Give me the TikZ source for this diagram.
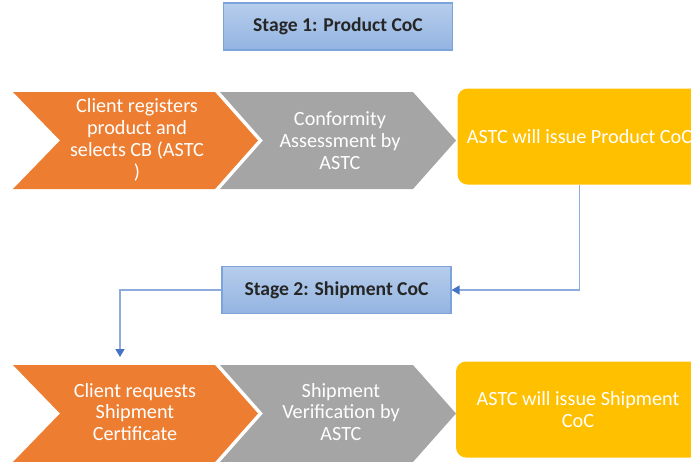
\documentclass[tikz,border=0pt]{standalone}
\usepackage{fontspec}
\setmainfont{Carlito}
\usetikzlibrary{arrows.meta}
\definecolor{chevorange}{HTML}{ED7D31}
\definecolor{chevgrey}{HTML}{A5A5A5}
\definecolor{cocyellow}{HTML}{FFC000}
\definecolor{stagetop}{HTML}{B6CDEC}
\definecolor{stagebot}{HTML}{93B4E1}
\definecolor{stageline}{HTML}{7DA4DA}
\definecolor{linkblue}{HTML}{8EABDD}
\definecolor{tipblue}{HTML}{4472C4}

\begin{document}
\begin{tikzpicture}[x=0.5pt, y=-0.5pt,
    stage/.style={draw=stageline, line width=0.6pt, top color=stagetop, bottom color=stagebot,
        minimum width=114.5pt, minimum height=23.5pt, inner sep=0pt, text=black!85,
        font=\fontsize{9.8pt}{10.8pt}\selectfont\bfseries},
    chevtext/.style={align=center, text=white, inner sep=0pt, font=\fontsize{10.1pt}{10.9pt}\selectfont},
    issue/.style={fill=cocyellow, rounded corners=5pt, minimum width=122pt, minimum height=48pt,
        align=center, text=white, inner sep=0pt, font=\fontsize{10.1pt}{11.2pt}\selectfont},
    link/.style={draw=linkblue, line width=0.75pt, -{Triangle[width=4.5pt, length=4pt, color=tipblue]}}]

    \useasboundingbox (0,0) rectangle (691,461);
    \clip (0,0) rectangle (691,461);

    % stage 1
    \node[stage] (stage1) at (338,26.5) {Stage 1: Product CoC};

    \fill[chevorange] (13,92) -- (215,92) -- (258,140.5) -- (215,189) -- (13,189) -- (60,140.5) -- cycle;
    \fill[chevgrey] (220,92) -- (413,92) -- (456,140.5) -- (413,189) -- (220,189) -- (263,140.5) -- cycle;

    \node[chevtext] (register) at (137,140) {Client registers\\product and\\selects CB (ASTC\\)};
    \node[chevtext] (assess) at (340,140.5) {Conformity\\Assessment by\\ASTC};
    \node[issue] (prod) at (579.5,136.5) {ASTC will issue Product CoC};

    % stage 2
    \node[stage] (stage2) at (336.5,290) {Stage 2: Shipment CoC};

    \fill[chevorange] (13,365) -- (215,365) -- (258,413.5) -- (215,462) -- (13,462) -- (60,413.5) -- cycle;
    \fill[chevgrey] (220,365) -- (413,365) -- (456,413.5) -- (413,462) -- (220,462) -- (263,413.5) -- cycle;

    \node[chevtext] (request) at (135,412) {Client requests\\Shipment\\Certificate};
    \node[chevtext] (verify) at (341,412) {Shipment\\Verification by\\ASTC};
    \node[issue] (ship) at (578,409.5) {ASTC will issue Shipment\\CoC};

    % links
    \coordinate (drop) at (120,357);
    \draw[link] (prod.south) |- (stage2.east);
    \draw[link] (stage2.west) -| (drop);

\end{tikzpicture}
\end{document}
